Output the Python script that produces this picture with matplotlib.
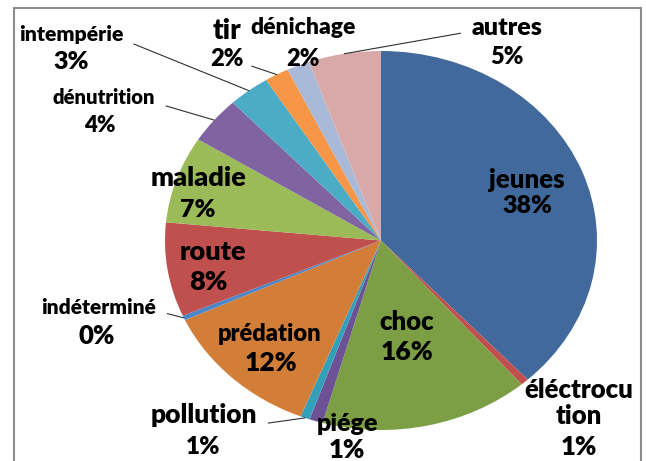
import numpy as np
import matplotlib
matplotlib.use("Agg")
import matplotlib.pyplot as plt
from matplotlib.patches import Rectangle

plt.rcParams['font.family'] = ['Lato', 'DejaVu Sans']

# ---- data (clockwise from 12 o'clock) ----
categories = ["jeunes", "éléctrocution", "choc", "piége", "pollution", "prédation",
              "indéterminé", "route", "maladie", "dénutrition", "intempérie",
              "tir", "dénichage", "autres"]
values = [38.0, 0.6, 15.6, 1.0, 0.7, 12.0, 0.4, 8.0, 7.4, 4.0, 3.1, 1.8, 1.7, 5.4]
colors = ["#41699B", "#C0504D", "#7C9F45", "#6C5194", "#33A0BA", "#D37E38",
          "#4A86C8", "#C0504D", "#9BBB59", "#8064A2", "#4BACC6", "#F79646",
          "#A9B9D8", "#D9A8A8"]
name_text = ["jeunes", "éléctrocu\ntion", "choc", "piége", "pollution", "prédation",
             "indéterminé", "route", "maladie", "dénutrition", "intempérie",
             "tir", "dénichage", "autres"]

# ---- layout (pixel positions, from top-left) ----
W, H = 646, 461
name_pos = [(527, 180), (579, 403), (407, 322), (347, 424), (204, 415), (270, 334),
            (99, 307), (213, 252), (198, 178), (104, 98), (71, 34),
            (227, 31), (303, 28), (507, 28)]
pct_pos = [(527, 206), (579, 447), (407, 352), (347, 450), (203, 447), (271, 363),
           (97, 336), (208, 282), (198, 210), (100, 125), (71, 62),
           (227, 59), (303, 59), (507, 57)]
name_size = [18.5, 18.5, 18.5, 18, 19, 17, 15, 19.5, 19.5, 14.6, 15.3, 20, 16.5, 18]
pct_size = [18, 18.5, 19, 18.5, 17.5, 19, 18.5, 19.5, 18, 16, 18, 17, 17, 17]
# leader lines: index -> (which text, relpos)
leaders = {9: ("name", (1.0, 0.25)), 10: ("name", (1.0, 0.2)), 11: ("pct", (1.0, 0.3)),
           13: ("name", (0.0, 0.35)), 6: ("name", (1.0, 0.3)), 4: ("name", (1.0, 0.1))}


def fig_xy(p):
    return (p[0] / W, 1 - p[1] / H)


fig = plt.figure(figsize=(W / 100, H / 100), dpi=100)
cx, cy, rx, ry = 381, 240.5, 216, 189.5
ax = fig.add_axes([(cx - rx) / W, 1 - (cy + ry) / H, 2 * rx / W, 2 * ry / H])
wedges, _ = ax.pie(values, colors=colors, startangle=90, counterclock=False,
                   wedgeprops=dict(linewidth=0))
ax.set_aspect('auto')
ax.set_xlim(-1, 1)
ax.set_ylim(-1, 1)
ax.axis('off')

total = sum(values)
for i, (cat, v) in enumerate(zip(categories, values)):
    pct = f"{int(round(v / total * 100))}%"
    w = wedges[i]
    mid = np.deg2rad((w.theta1 + w.theta2) / 2)
    anchor = (np.cos(mid), np.sin(mid))
    kind = leaders.get(i)
    tk = dict(ha='center', va='center', fontweight='heavy', color='black')
    if kind and kind[0] == "name":
        ax.annotate(name_text[i], xy=anchor, xycoords='data', xytext=fig_xy(name_pos[i]),
                    textcoords='figure fraction', fontsize=name_size[i], annotation_clip=False,
                    arrowprops=dict(arrowstyle='-', color='#303030', lw=0.8,
                                    relpos=kind[1], shrinkA=6, shrinkB=0), **tk)
    else:
        fig.text(*fig_xy(name_pos[i]), name_text[i], fontsize=name_size[i],
                 linespacing=1.12, **tk)
    if kind and kind[0] == "pct":
        ax.annotate(pct, xy=anchor, xycoords='data', xytext=fig_xy(pct_pos[i]),
                    textcoords='figure fraction', fontsize=pct_size[i], annotation_clip=False,
                    arrowprops=dict(arrowstyle='-', color='#303030', lw=0.8,
                                    relpos=kind[1], shrinkA=4, shrinkB=0), **tk)
    else:
        fig.text(*fig_xy(pct_pos[i]), pct, fontsize=pct_size[i], **tk)

# chart frame
fig.patches.append(Rectangle((14 / W, -0.05), (641 - 14) / W, 1.05 - 8 / H,
                             transform=fig.transFigure, fill=False,
                             edgecolor='#8C8C8C', linewidth=1.5))

fig.savefig("out.png", dpi=100)
